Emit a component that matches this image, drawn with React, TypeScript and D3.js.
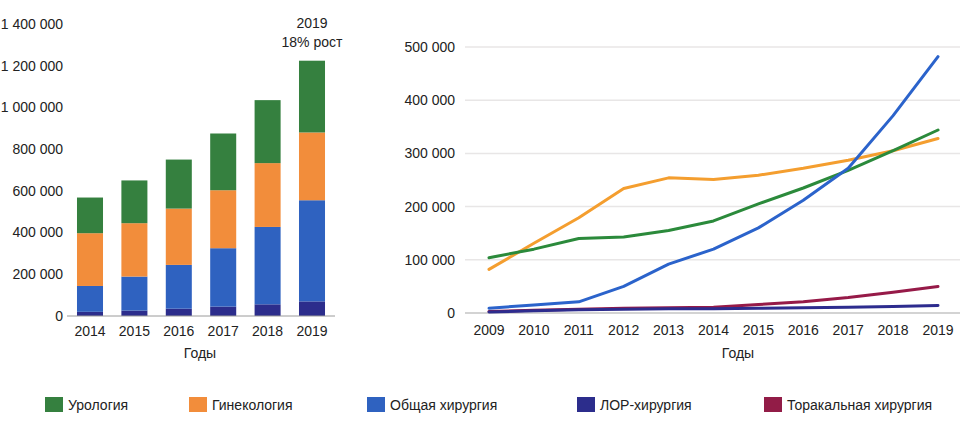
import React from "react";
import * as d3 from "d3";

// left chart: stacked totals by year
const barYears = ["2014", "2015", "2016", "2017", "2018", "2019"];
const barLor = [20000, 26000, 35000, 45000, 56000, 70000];
const barGeneral = [124000, 163000, 210000, 280000, 371000, 485000];
const barGyn = [253000, 256000, 270000, 278000, 306000, 325000];
const barUro = [171000, 205000, 235000, 272000, 302000, 344000];
const barTicks = [0, 200000, 400000, 600000, 800000, 1000000, 1200000, 1400000];

// right chart: series by year
const lineYears = [2009, 2010, 2011, 2012, 2013, 2014, 2015, 2016, 2017, 2018, 2019];
const uroSeries = [104000, 120000, 140000, 143000, 155000, 173000, 205000, 235000, 268000, 305000, 344000];
const gynSeries = [82000, 131000, 179000, 234000, 254000, 251000, 259000, 272000, 287000, 305000, 328000];
const generalSeries = [9000, 15000, 21000, 50000, 92000, 120000, 160000, 212000, 272000, 371000, 482000];
const lorSeries = [2000, 4000, 6000, 7000, 8000, 8000, 9000, 10000, 11000, 12000, 14000];
const thoracicSeries = [3000, 5000, 7000, 9000, 10000, 11000, 16000, 21000, 29000, 39000, 50000];
const lineTicks = [0, 100000, 200000, 300000, 400000, 500000];

const legendNames = ["Урология", "Гинекология", "Общая хирургия", "ЛОР-хирургия", "Торакальная хирургия"];

const C = {
  uro: "#35803f",
  gyn: "#f28d3b",
  general: "#2f62c0",
  lor: "#2c2d8c",
  thoracic: "#921c47",
};
const lineColors = { uro: "#2b8a3b", gyn: "#f49e2f", general: "#2b63cb", lor: "#2d2c8e", thoracic: "#961a48" };

const font = "'Liberation Sans', Arial, sans-serif";
const fmt = (v: number) => d3.format(",")(v).replace(/,/g, " ");

export default function App() {
  // ---- left stacked bars
  const bx = d3.scaleBand().domain(barYears).range([67, 335]).paddingInner(0.414).paddingOuter(0.225);
  const by = d3.scaleLinear().domain([0, 1400000]).range([316, 24]);
  const keys = ["lor", "general", "gyn", "uro"] as const;
  const rows = barYears.map((y, i) => ({
    year: y,
    lor: barLor[i],
    general: barGeneral[i],
    gyn: barGyn[i],
    uro: barUro[i],
  }));
  const stacked = d3.stack<any>().keys(keys as any)(rows);

  // ---- right lines
  const lx = d3.scalePoint<number>().domain(lineYears).range([489, 938]);
  const ly = d3.scaleLinear().domain([0, 500000]).range([313, 47]);
  const line = d3
    .line<number>()
    .x((_, i) => lx(lineYears[i])!)
    .y((d) => ly(d))
    .curve(d3.curveLinear);
  const series = [
    { vals: gynSeries, color: lineColors.gyn },
    { vals: uroSeries, color: lineColors.uro },
    { vals: generalSeries, color: lineColors.general },
    { vals: thoracicSeries, color: lineColors.thoracic },
    { vals: lorSeries, color: lineColors.lor },
  ];

  const legendX = [45, 189, 367, 577, 764];
  const legendColors = [C.uro, C.gyn, C.general, C.lor, C.thoracic];

  return (
    <svg
      width={973}
      height={423}
      style={{ position: "absolute", left: 0, top: 0, background: "#fff" }}
      fontFamily={font}
      fontSize={14}
    >
      {/* left chart */}
      {barTicks.map((t) => (
        <text key={t} x={63} y={by(t)} dy="0.35em" textAnchor="end" fill="#222">
          {fmt(t)}
        </text>
      ))}
      {stacked.map((layer) => (
        <g key={layer.key} fill={(C as any)[layer.key]}>
          {layer.map((d, i) => (
            <rect
              key={i}
              x={bx(barYears[i])}
              y={by(d[1])}
              width={bx.bandwidth()}
              height={by(d[0]) - by(d[1])}
            />
          ))}
        </g>
      ))}
      <line x1={67} x2={335} y1={by(0)} y2={by(0)} stroke="#9a9a9a" strokeWidth={1} />
      {barYears.map((y) => (
        <text key={y} x={bx(y)! + bx.bandwidth() / 2} y={336} textAnchor="middle" fill="#222">
          {y}
        </text>
      ))}
      <text x={200} y={358} textAnchor="middle" fill="#222">
        Годы
      </text>
      <text x={bx("2019")! + bx.bandwidth() / 2} y={28} textAnchor="middle" fill="#222">
        2019
      </text>
      <text x={bx("2019")! + bx.bandwidth() / 2} y={47} textAnchor="middle" fill="#222">
        18% рост
      </text>

      {/* right chart */}
      {lineTicks.map((t) => (
        <g key={t}>
          <line
            x1={465}
            x2={960}
            y1={ly(t)}
            y2={ly(t)}
            stroke={t === 0 ? "#a8a8a8" : "#e8e6e6"}
            strokeWidth={t === 0 ? 1.2 : 1.5}
          />
          <text x={455} y={ly(t)} dy="0.35em" textAnchor="end" fill="#222">
            {fmt(t)}
          </text>
        </g>
      ))}
      {series.map((s, i) => (
        <path
          key={i}
          d={line(s.vals)!}
          fill="none"
          stroke={s.color}
          strokeWidth={3}
          strokeLinecap="round"
          strokeLinejoin="round"
        />
      ))}
      {lineYears.map((y) => (
        <text key={y} x={lx(y)} y={335} textAnchor="middle" fill="#222">
          {y}
        </text>
      ))}
      <text x={738} y={358} textAnchor="middle" fill="#222">
        Годы
      </text>

      {/* legend */}
      {legendNames.map((n, i) => (
        <g key={n}>
          <rect x={legendX[i]} y={397} width={18} height={15} fill={legendColors[i]} />
          <text x={legendX[i] + 23} y={410} fill="#222">
            {n}
          </text>
        </g>
      ))}
    </svg>
  );
}
